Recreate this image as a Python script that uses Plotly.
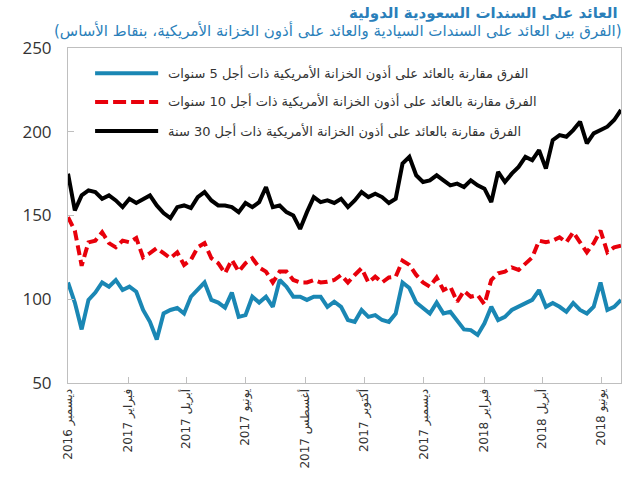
import pandas as pd
import plotly.graph_objects as go

# Weekly readings, starting 1 Dec 2016
dates = pd.date_range("2016-12-01", periods=82, freq="7D")

spread_5y = [110, 98, 82, 99.6, 104, 110, 107.5, 111.5, 105.5, 107.5,
             104.5, 93.6, 86.5, 76, 91.5, 93.6, 94.8, 91.5, 101.5, 106,
             110, 99.6, 98, 95, 104, 89.5, 90.5, 101.5, 98, 101.5,
             95.5, 111.5, 107.5, 101.5, 101.5, 99.6, 101.5, 101.5, 95.5, 98.5,
             95.5, 87.6, 86.5, 93.6, 89.5, 90.5, 87.6, 86.5, 91.5, 110,
             106.7, 98, 95, 91.5, 98, 91.5, 92.5, 87.6, 82, 81.6,
             78.7, 85.6, 95.5, 87.6, 89.5, 93.6, 95.5, 97.8, 99.6, 105.5,
             95.5, 97.8, 95.5, 92.5, 97.8, 93.6, 91.5, 95.5, 110, 93.6,
             95.5, 99.6]

spread_10y = [149, 141, 120, 134, 135, 140, 133.5, 131, 135, 134,
              136.5, 125, 127.5, 130.5, 127.5, 124.5, 128, 120.5, 123.5, 131,
              133.5, 124.5, 121.5, 115.5, 123.5, 116.5, 121.5, 124.5, 119, 116.5,
              110, 116.5, 116.5, 111.5, 110, 110, 111.5, 110, 110.5, 111.5,
              114.5, 110, 114.5, 118.5, 110, 113.5, 110, 113, 113.5, 123,
              120.5, 114.5, 110, 107.5, 113, 105.5, 107.5, 98.5, 105, 101.5,
              102.5, 97, 111.5, 115.5, 116.5, 119, 117.5, 121.5, 125, 135,
              134, 135, 137, 134, 140, 134, 128, 133.5, 141, 128,
              131, 132]

spread_30y = [175, 153, 162, 165, 164, 160, 162, 159, 155, 160,
              157.5, 160, 162, 156, 151.5, 148.5, 155, 156, 154.5, 161,
              164, 159, 156, 156, 155, 152, 157.5, 155, 158, 167,
              155, 156, 152, 150, 142, 152, 161, 158, 159, 157.5,
              160, 155, 159, 164, 161, 163, 161, 157.5, 160, 181,
              185, 174, 170, 171, 174, 171, 168, 169, 167, 171,
              168, 166, 158, 176, 170, 175, 179, 185, 183, 189,
              178, 195, 198, 197, 201, 206, 193, 199, 201, 203,
              207, 213]

series_names = [
    "الفرق مقارنة بالعائد على أذون الخزانة الأمريكية ذات أجل 5 سنوات",
    "الفرق مقارنة بالعائد على أذون الخزانة الأمريكية ذات أجل 10 سنوات",
    "الفرق مقارنة بالعائد على أذون الخزانة الأمريكية ذات أجل 30 سنة",
]

tick_dates = ["2016-12-01", "2017-02-01", "2017-04-01", "2017-06-01", "2017-08-01",
              "2017-10-01", "2017-12-01", "2018-02-01", "2018-04-01", "2018-06-01"]
tick_months = ["ديسمبر", "فبراير", "أبريل", "يونيو", "أغسطس",
               "أكتوبر", "ديسمبر", "فبراير", "أبريل", "يونيو"]
tick_years = ["2016", "2017", "2017", "2017", "2017", "2017", "2017", "2018", "2018", "2018"]
tick_text = [f"{y} {m}" for m, y in zip(tick_months, tick_years)]

title = "العائد على السندات السعودية الدولية"
subtitle = "(الفرق بين العائد على السندات السيادية والعائد على أذون الخزانة الأمريكية، بنقاط الأساس)"

BLUE = "#1a87b4"
RED = "#e8000b"
BLACK = "#000000"
TITLE_BLUE = "#2b7fba"
AR_FONT = "DejaVu Sans"

fig = go.Figure()
fig.add_trace(go.Scatter(x=dates, y=spread_5y, mode="lines", name=series_names[0],
                         line=dict(color=BLUE, width=4)))
fig.add_trace(go.Scatter(x=dates, y=spread_10y, mode="lines", name=series_names[1],
                         line=dict(color=RED, width=4, dash="10px,5px")))
fig.add_trace(go.Scatter(x=dates, y=spread_30y, mode="lines", name=series_names[2],
                         line=dict(color=BLACK, width=4)))

# manual legend (paper coordinates)
leg_rows = [0.925, 0.839, 0.752]
leg_styles = [dict(color=BLUE, width=4), dict(color=RED, width=4, dash="13px,5px"),
              dict(color=BLACK, width=4)]
for yy, st, nm in zip(leg_rows, leg_styles, series_names):
    fig.add_shape(type="line", xref="paper", yref="paper", x0=0.049, x1=0.163,
                  y0=yy, y1=yy, line=st)
    fig.add_annotation(xref="paper", yref="paper", x=0.178, y=yy, text=nm,
                       showarrow=False, xanchor="left", yanchor="middle",
                       font=dict(family=AR_FONT, size=13, color="#333333"))

fig.add_annotation(xref="paper", yref="paper", x=0.998, y=1.104, text=f"<b>{title}</b>",
                   showarrow=False, xanchor="right", yanchor="middle",
                   font=dict(family=AR_FONT, size=15, color=TITLE_BLUE))
fig.add_annotation(xref="paper", yref="paper", x=1.003, y=1.052, text=subtitle,
                   showarrow=False, xanchor="right", yanchor="middle",
                   font=dict(family=AR_FONT, size=15, color=TITLE_BLUE))

fig.update_layout(
    width=637, height=487,
    margin=dict(l=68, r=16, t=48, b=104),
    paper_bgcolor="white", plot_bgcolor="white",
    showlegend=False,
    font=dict(family=AR_FONT, color="#333333"),
)
fig.update_xaxes(
    type="date", range=["2016-12-01", "2018-06-21"],
    tickvals=tick_dates, ticktext=tick_text, tickangle=-90,
    tickfont=dict(family=AR_FONT, size=12, color="#333333"),
    showgrid=False, zeroline=False, automargin=False,
    showline=True, linecolor="#bfbfbf", linewidth=1, mirror=True,
    ticks="inside", ticklen=6, tickcolor="#bfbfbf",
)
fig.update_yaxes(
    range=[50, 250], tickvals=[50, 100, 150, 200, 250],
    tickfont=dict(family="Open Sans", size=17, color="#333333"),
    showgrid=False, zeroline=False, automargin=False,
    showline=True, linecolor="#bfbfbf", linewidth=1, mirror=True,
    ticks="inside", ticklen=6, tickcolor="#bfbfbf", ticklabelstandoff=12,
)

fig.write_html("out.html", config={"displayModeBar": False},
               post_script="document.body.style.margin='0px';")
